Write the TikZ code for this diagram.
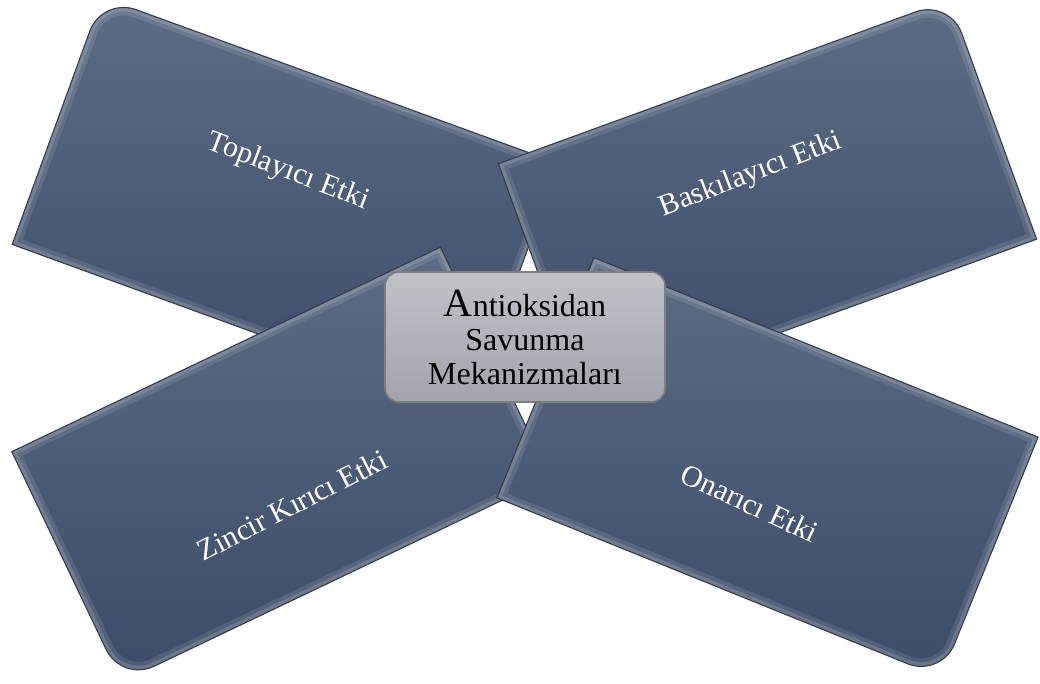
\documentclass[tikz,border=0pt]{standalone}
\usepackage{fontspec}
\setmainfont{Liberation Serif}

\definecolor{petaltop}{RGB}{92,108,132}
\definecolor{petalbot}{RGB}{60,76,104}
\definecolor{petalrim}{RGB}{52,60,78}
\definecolor{hubtop}{RGB}{192,194,200}
\definecolor{hubbot}{RGB}{162,164,172}
\definecolor{hubrim}{RGB}{125,126,132}

% one tilted card: fill, inner bevel, rim
\newcommand{\petal}[1]{%
  \begin{scope}
    \clip #1;
    \fill[top color=petaltop, bottom color=petalbot] #1;
    \draw[line width=12pt, white, opacity=.10] #1;
    \draw[line width=6pt, white, opacity=.14] #1;
  \end{scope}
  \draw[petalrim, line width=.8pt] #1;}

\begin{document}
\begin{tikzpicture}[x=0.75pt,y=0.75pt,
    lbl/.style={text=white, inner sep=0pt, font=\fontsize{22.5}{27}\selectfont},
    hub/.style={draw=hubrim, line width=1.2pt, rounded corners=10.5pt,
      top color=hubtop, bottom color=hubbot, align=center, inner sep=0pt,
      minimum width=210pt, minimum height=97.5pt,
      font=\fontsize{24}{25.5}\selectfont}]
  \useasboundingbox (0,0) rectangle (1040,684);

  % top left
  \begin{scope}[shift={(285.5,480)}, rotate=-20]
    \petal{(-243,-131.5) -- (-243,95.5) arc[start angle=180, end angle=90, radius=36] -- (243,131.5) -- (243,-131.5) -- cycle}
  \end{scope}
  \node[lbl, rotate=-21] (toplayici) at (288,512) {Toplayıcı Etki};

  % top right
  \begin{scope}[shift={(767.5,482.5)}, rotate=20]
    \petal{(-240,-127.5) -- (-240,127.5) -- (204,127.5) arc[start angle=90, end angle=0, radius=36] -- (240,-127.5) -- cycle}
  \end{scope}
  \node[lbl, rotate=21] (baskilayici) at (751,509) {Baskılayıcı Etki};

  % bottom left
  \begin{scope}[shift={(281,219.5)}, rotate=25.5]
    \petal{(-237.5,127.5) -- (237.5,127.5) -- (237.5,-127.5) -- (-201.5,-127.5) arc[start angle=270, end angle=180, radius=36] -- cycle}
  \end{scope}
  \node[lbl, rotate=27] (zincir) at (292,179) {Zincir Kırıcı Etki};

  % bottom right
  \begin{scope}[shift={(767.5,216.5)}, rotate=-22]
    \petal{(-239.5,-129.5) -- (-239.5,129.5) -- (239.5,129.5) -- (239.5,-93.5) arc[start angle=0, end angle=-90, radius=36] -- cycle}
  \end{scope}
  \node[lbl, rotate=-25] (onarici) at (750,181) {Onarıcı Etki};

  % centre
  \node[hub] (savunma) at (525,347)
    {{\fontsize{30}{25.5}\selectfont A}ntioksidan\\Savunma\\Mekanizmaları};
\end{tikzpicture}
\end{document}
